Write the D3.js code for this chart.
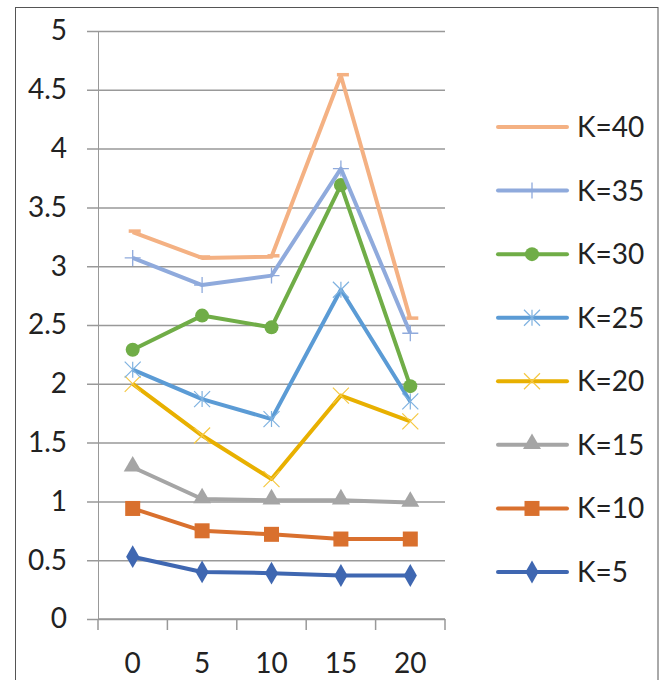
<!DOCTYPE html>
<html>
<head>
<meta charset="utf-8">
<script src="https://cdn.jsdelivr.net/npm/d3@7"></script>
<style>
  body { margin: 0; background: #fff; }
  svg { display: block; font-family: Lato, "Noto Sans", sans-serif; }
</style>
</head>
<body>
<div id="chart"></div>
<script>
// categories on the x axis
const categories = ['0', '5', '10', '15', '20'];
const yTicks = [0, 0.5, 1, 1.5, 2, 2.5, 3, 3.5, 4, 4.5, 5];

// series names, legend order (top to bottom)
const seriesNames = ['K=40', 'K=35', 'K=30', 'K=25', 'K=20', 'K=15', 'K=10', 'K=5'];

// values
const k5 = [0.53, 0.40, 0.39, 0.37, 0.37];
const k10 = [0.94, 0.75, 0.72, 0.68, 0.68];
const k15 = [1.29, 1.02, 1.01, 1.01, 0.99];
const k20 = [2.00, 1.56, 1.19, 1.90, 1.68];
const k25 = [2.12, 1.87, 1.70, 2.80, 1.85];
const k30 = [2.29, 2.58, 2.48, 3.69, 1.98];
const k35 = [3.07, 2.84, 2.92, 3.83, 2.43];
const k40 = [3.29, 3.07, 3.08, 4.62, 2.55];

const seriesValues = [k40, k35, k30, k25, k20, k15, k10, k5];

const styles = {
  'K=40': { color: '#F4B183', marker: 'dash', mcolor: '#F4B183' },
  'K=35': { color: '#8FAADC', marker: 'plus', mcolor: '#8FAADC' },
  'K=30': { color: '#70AD47', marker: 'circle', mcolor: '#70AD47' },
  'K=25': { color: '#5B9BD5', marker: 'star', mcolor: '#7FB2E0' },
  'K=20': { color: '#E8B000', marker: 'x', mcolor: '#F5C842' },
  'K=15': { color: '#A5A5A5', marker: 'triangle', mcolor: '#A5A5A5' },
  'K=10': { color: '#D9702E', marker: 'square', mcolor: '#D9702E' },
  'K=5': { color: '#3F67B1', marker: 'diamond', mcolor: '#3F67B1' }
};

const W = 663, H = 680;
const plot = { left: 98, right: 445, top: 31, bottom: 619 };

const svg = d3.select('#chart').append('svg')
  .attr('width', W).attr('height', H);

// outer chart border
svg.append('rect')
  .attr('x', 15.5).attr('y', 7.5)
  .attr('width', 642.5).attr('height', 690)
  .attr('fill', 'none').attr('stroke', '#555').attr('stroke-width', 1);

const x = d3.scaleBand().domain(categories).range([plot.left, plot.right]);
const y = d3.scaleLinear().domain([0, 5]).range([plot.bottom, plot.top]);

// gridlines + y labels
const yAxis = svg.append('g')
  .attr('transform', 'translate(' + plot.left + ',0)')
  .call(d3.axisLeft(y).tickValues(yTicks).tickSize(-(plot.right - plot.left))
    .tickSizeOuter(0).tickPadding(31).tickFormat(d3.format('')));
yAxis.select('.domain').attr('stroke', '#999');
yAxis.selectAll('.tick line').attr('stroke', '#999').attr('stroke-width', 1.5).attr('x1', -11);
yAxis.selectAll('.tick text').attr('font-size', 28).attr('fill', '#222')
  .attr('font-family', 'Lato, "Noto Sans", sans-serif');

// x axis with tick marks between categories
const xAxis = svg.append('g')
  .attr('transform', 'translate(0,' + plot.bottom + ')');
xAxis.append('line')
  .attr('x1', plot.left).attr('x2', plot.right)
  .attr('stroke', '#999').attr('stroke-width', 1.5);
const xEdges = categories.map(c => x(c)).concat([x(categories[categories.length - 1]) + x.bandwidth()]);
xAxis.selectAll('.xt').data(xEdges).enter().append('line')
  .attr('x1', d => d).attr('x2', d => d).attr('y1', 0).attr('y2', 11)
  .attr('stroke', '#999').attr('stroke-width', 1.5);
xAxis.selectAll('.xl').data(categories).enter().append('text')
  .attr('x', d => x(d) + x.bandwidth() / 2).attr('y', 54)
  .attr('text-anchor', 'middle').attr('font-size', 28).attr('fill', '#222')
  .text(d => d);

function drawMarker(g, type, cx, cy, mcolor) {
  const s = 8;
  if (type === 'circle') {
    g.append('circle').attr('cx', cx).attr('cy', cy).attr('r', 7).attr('fill', mcolor);
  } else if (type === 'square') {
    g.append('rect').attr('x', cx - 7.5).attr('y', cy - 7.5).attr('width', 15).attr('height', 15).attr('fill', mcolor);
  } else if (type === 'diamond') {
    g.append('path').attr('d', d3.symbol(d3.symbolDiamond, 150)()).attr('transform', 'translate(' + cx + ',' + cy + ')').attr('fill', mcolor);
  } else if (type === 'triangle') {
    g.append('path').attr('d', d3.symbol(d3.symbolTriangle, 140)()).attr('transform', 'translate(' + cx + ',' + (cy - 1) + ')').attr('fill', mcolor);
  } else if (type === 'plus') {
    g.append('path').attr('d', 'M' + (cx - s) + ',' + cy + 'H' + (cx + s) + 'M' + cx + ',' + (cy - s) + 'V' + (cy + s))
      .attr('stroke', mcolor).attr('stroke-width', 1.3).attr('fill', 'none');
  } else if (type === 'x') {
    g.append('path').attr('d', 'M' + (cx - s) + ',' + (cy - s) + 'L' + (cx + s) + ',' + (cy + s) + 'M' + (cx - s) + ',' + (cy + s) + 'L' + (cx + s) + ',' + (cy - s))
      .attr('stroke', mcolor).attr('stroke-width', 1.2).attr('fill', 'none');
  } else if (type === 'star') {
    g.append('path').attr('d', 'M' + (cx - s) + ',' + (cy - s) + 'L' + (cx + s) + ',' + (cy + s) + 'M' + (cx - s) + ',' + (cy + s) + 'L' + (cx + s) + ',' + (cy - s) + 'M' + cx + ',' + (cy - s) + 'V' + (cy + s))
      .attr('stroke', mcolor).attr('stroke-width', 1.2).attr('fill', 'none');
  } else if (type === 'dash') {
    g.append('path').attr('d', 'M' + (cx - 4) + ',' + (cy - 1) + 'H' + (cx + 8))
      .attr('stroke', mcolor).attr('stroke-width', 3.5).attr('fill', 'none');
  }
}

const line = d3.line()
  .x((d, i) => x(categories[i]) + x.bandwidth() / 2)
  .y(d => y(d));

// draw bottom series first so upper ones lie on top
for (let i = seriesNames.length - 1; i >= 0; i--) {
  const name = seriesNames[i];
  const st = styles[name];
  const vals = seriesValues[i];
  const g = svg.append('g');
  g.append('path').datum(vals)
    .attr('d', line)
    .attr('fill', 'none')
    .attr('stroke', st.color)
    .attr('stroke-width', 4)
    .attr('stroke-linejoin', 'round');
  vals.forEach((v, j) => {
    drawMarker(g, st.marker, x(categories[j]) + x.bandwidth() / 2, y(v), st.mcolor);
  });
}

// legend
const legendY = d3.scalePoint().domain(seriesNames).range([127, 572]);
const lg = svg.append('g');
seriesNames.forEach(name => {
  const st = styles[name];
  const ly = legendY(name);
  lg.append('line').attr('x1', 498).attr('x2', 567).attr('y1', ly).attr('y2', ly)
    .attr('stroke', st.color).attr('stroke-width', 4).attr('stroke-linecap', 'round');
  if (st.marker !== 'dash') drawMarker(lg, st.marker, 532, ly, st.mcolor);
  lg.append('text').attr('x', 577).attr('y', ly + 10)
    .attr('font-size', 28).attr('fill', '#222').text(name);
});
</script>
</body>
</html>
